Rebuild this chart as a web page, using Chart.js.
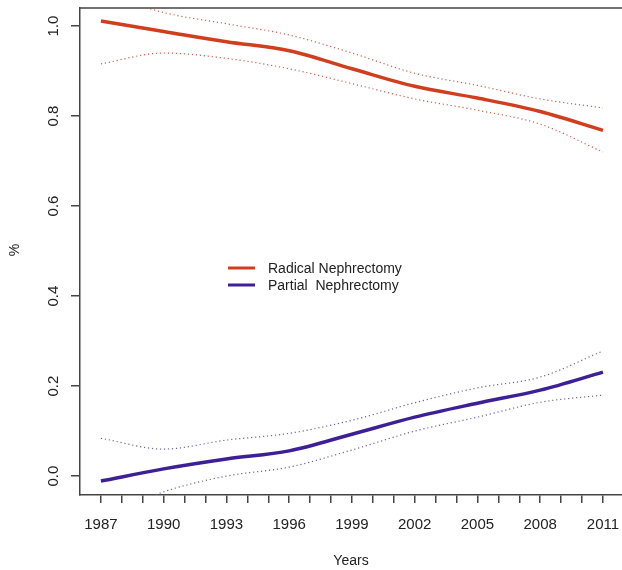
<!DOCTYPE html>
<html>
<head>
<meta charset="utf-8">
<script src="https://cdn.jsdelivr.net/npm/chart.js@4"></script>
<style>
  html, body { margin: 0; padding: 0; background: #fff; }
  #wrap { width: 622px; height: 570px; }
</style>
</head>
<body>
<div id="wrap"><canvas id="chart"></canvas></div>
<script>
// data (3-year steps)
const years = [1987, 1990, 1993, 1996, 1999, 2002, 2005, 2008, 2011];
const radical = [1.011, 0.988, 0.965, 0.945, 0.905, 0.866, 0.840, 0.810, 0.768];
const radicalUpper = [1.075, 1.030, 1.005, 0.980, 0.940, 0.895, 0.868, 0.838, 0.818];
const radicalLower = [0.916, 0.940, 0.928, 0.905, 0.872, 0.838, 0.813, 0.782, 0.720];
const partial = [-0.011, 0.016, 0.038, 0.056, 0.093, 0.131, 0.162, 0.191, 0.231];
const partialUpper = [0.084, 0.060, 0.080, 0.095, 0.124, 0.163, 0.196, 0.220, 0.278];
const partialLower = [-0.095, -0.035, 0.000, 0.020, 0.058, 0.100, 0.131, 0.164, 0.180];
const tickYears = [1987, 1988, 1989, 1990, 1991, 1992, 1993, 1994, 1995, 1996, 1997, 1998, 1999,
                   2000, 2001, 2002, 2003, 2004, 2005, 2006, 2007, 2008, 2009, 2010, 2011];
const yTicks = [0.0, 0.2, 0.4, 0.6, 0.8, 1.0];
const legendLabels = ['Radical Nephrectomy', 'Partial  Nephrectomy'];

const RED = 'rgb(208, 62, 30)';
const BLUE = 'rgb(62, 32, 150)';
const RED_CI = 'rgb(200, 95, 75)';
const BLUE_CI = 'rgb(105, 100, 160)';
const AXIS = '#444';
const FONT = '"Liberation Sans", Arial, sans-serif';

const pts = arr => years.map((y, i) => ({ x: y, y: arr[i] }));

function line(data, color, width, dash) {
    return {
        data: pts(data),
        borderColor: color,
        borderWidth: width,
        borderDash: dash || [],
        pointRadius: 0,
        fill: false,
        cubicInterpolationMode: 'monotone'
    };
}

// frame top, rotated y labels, legend
const extras = {
    id: 'extras',
    afterDraw(chart) {
        const ctx = chart.ctx;
        const a = chart.chartArea;
        const ys = chart.scales.y;
        ctx.save();
        ctx.strokeStyle = AXIS;
        ctx.lineWidth = 1.5;
        ctx.beginPath();
        ctx.moveTo(a.left, a.top);
        ctx.lineTo(a.right, a.top);
        ctx.stroke();

        ctx.fillStyle = '#222';
        ctx.font = '15px ' + FONT;
        ctx.textAlign = 'center';
        ctx.textBaseline = 'middle';
        yTicks.forEach(v => {
            const py = ys.getPixelForValue(v);
            ctx.save();
            ctx.translate(54, py);
            ctx.rotate(-Math.PI / 2);
            ctx.fillText(v.toFixed(1), 0, 0);
            ctx.restore();
        });
        ctx.save();
        ctx.translate(15, 250);
        ctx.rotate(-Math.PI / 2);
        ctx.font = '14px ' + FONT;
        ctx.fillText('%', 0, 0);
        ctx.restore();

        // legend
        const colors = [RED, BLUE];
        ctx.font = '14px ' + FONT;
        ctx.textAlign = 'left';
        legendLabels.forEach((lab, i) => {
            const ly = 268 + i * 17;
            ctx.strokeStyle = colors[i];
            ctx.lineWidth = 3;
            ctx.beginPath();
            ctx.moveTo(228, ly);
            ctx.lineTo(255, ly);
            ctx.stroke();
            ctx.fillStyle = '#222';
            ctx.fillText(lab, 268, ly + 1);
        });
        ctx.restore();
    }
};

new Chart(document.getElementById('chart'), {
    type: 'line',
    data: {
        datasets: [
            line(radicalUpper, RED_CI, 1.2, [1.2, 2.8]),
            line(radicalLower, RED_CI, 1.2, [1.2, 2.8]),
            line(partialUpper, BLUE_CI, 1.2, [1.2, 2.8]),
            line(partialLower, BLUE_CI, 1.2, [1.2, 2.8]),
            line(radical, RED, 3.5),
            line(partial, BLUE, 3.5)
        ]
    },
    options: {
        responsive: true,
        maintainAspectRatio: false,
        animation: false,
        layout: { padding: { top: 8, right: 0, left: 0, bottom: 0 } },
        plugins: { legend: { display: false }, tooltip: { enabled: false } },
        scales: {
            x: {
                type: 'linear',
                min: 1986,
                max: 2011.91,
                afterBuildTicks: scale => { scale.ticks = tickYears.map(v => ({ value: v })); },
                afterFit: scale => {
                    scale.height = 75;
                    scale.paddingLeft = 0;
                    scale.paddingRight = 0;
                },
                grid: { drawOnChartArea: false, tickLength: 8, color: AXIS, lineWidth: 1.5 },
                border: { display: true, color: AXIS, width: 1.5 },
                ticks: {
                    autoSkip: false,
                    maxRotation: 0,
                    padding: 13,
                    color: '#222',
                    font: { family: FONT, size: 15 },
                    callback: v => ((v - 1987) % 3 === 0 ? String(v) : '')
                },
                title: {
                    display: true,
                    text: 'Years',
                    color: '#222',
                    font: { family: FONT, size: 14 },
                    padding: { top: 18, bottom: 0 }
                }
            },
            y: {
                min: -0.042,
                max: 1.04,
                afterBuildTicks: scale => { scale.ticks = yTicks.map(v => ({ value: v })); },
                afterFit: scale => { scale.width = 80; },
                grid: { drawOnChartArea: false, tickLength: 9, color: AXIS, lineWidth: 1.5 },
                border: { display: true, color: AXIS, width: 1.5 },
                ticks: { display: false }
            }
        }
    },
    plugins: [extras]
});
</script>
</body>
</html>
